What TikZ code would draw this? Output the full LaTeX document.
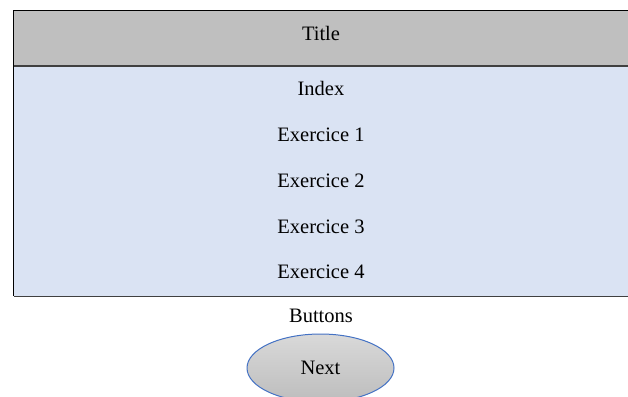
\documentclass[tikz,border=0pt]{standalone}
\usepackage{fontspec}
\setmainfont{Liberation Serif}
\usetikzlibrary{shapes.geometric}
\definecolor{headgray}{HTML}{BFBFBF}
\definecolor{listblue}{HTML}{DAE3F3}
\definecolor{edgedark}{HTML}{404040}
\definecolor{btnblue}{HTML}{4472C4}
\definecolor{btntop}{HTML}{D9D9D9}
\definecolor{btnbottom}{HTML}{BDBDBD}
\tikzset{
  label text/.style={font=\fontsize{20.5}{24}\selectfont, text=black, inner sep=0pt},
  header box/.style={fill=headgray, draw=none, inner sep=0pt, anchor=north west},
  list box/.style={fill=listblue, draw=none, inner sep=0pt, anchor=north west},
  button/.style={ellipse, draw=btnblue, line width=1pt, top color=btntop, bottom color=btnbottom,
    minimum width=147pt, minimum height=68pt, inner sep=0pt},
}
\begin{document}
\begin{tikzpicture}[x=1pt,y=-1pt]
  \useasboundingbox (0,0) rectangle (628,396);
  % header band and list area
  \node[header box, minimum width=620pt, minimum height=55pt] (head) at (13.5,10.5) {};
  \node[list box, minimum width=620pt, minimum height=230.5pt] (list) at (13.5,65.5) {};
  % outlines
  \draw[black, line width=1.2pt] (head.north east) -- (head.north west) -- (list.south west);
  \draw[edgedark, line width=1.6pt] (head.south west) -- (head.south east);
  \draw[edgedark, line width=1.6pt] (list.south west) -- (list.south east);
  % texts
  \node[label text] (title) at (321,33.7) {Title};
  \node[label text] (index) at (321,88.3) {Index};
  \node[label text] (ex1) at (321,134.5) {Exercice 1};
  \node[label text] (ex2) at (321,180.5) {Exercice 2};
  \node[label text] (ex3) at (321,226.5) {Exercice 3};
  \node[label text] (ex4) at (321,272) {Exercice 4};
  \node[label text] (buttons) at (321,316) {Buttons};
  % next button
  \node[button] (next) at (320.5,368) {};
  \node[label text] (nextlabel) at (next.center) {Next};
\end{tikzpicture}
\end{document}
